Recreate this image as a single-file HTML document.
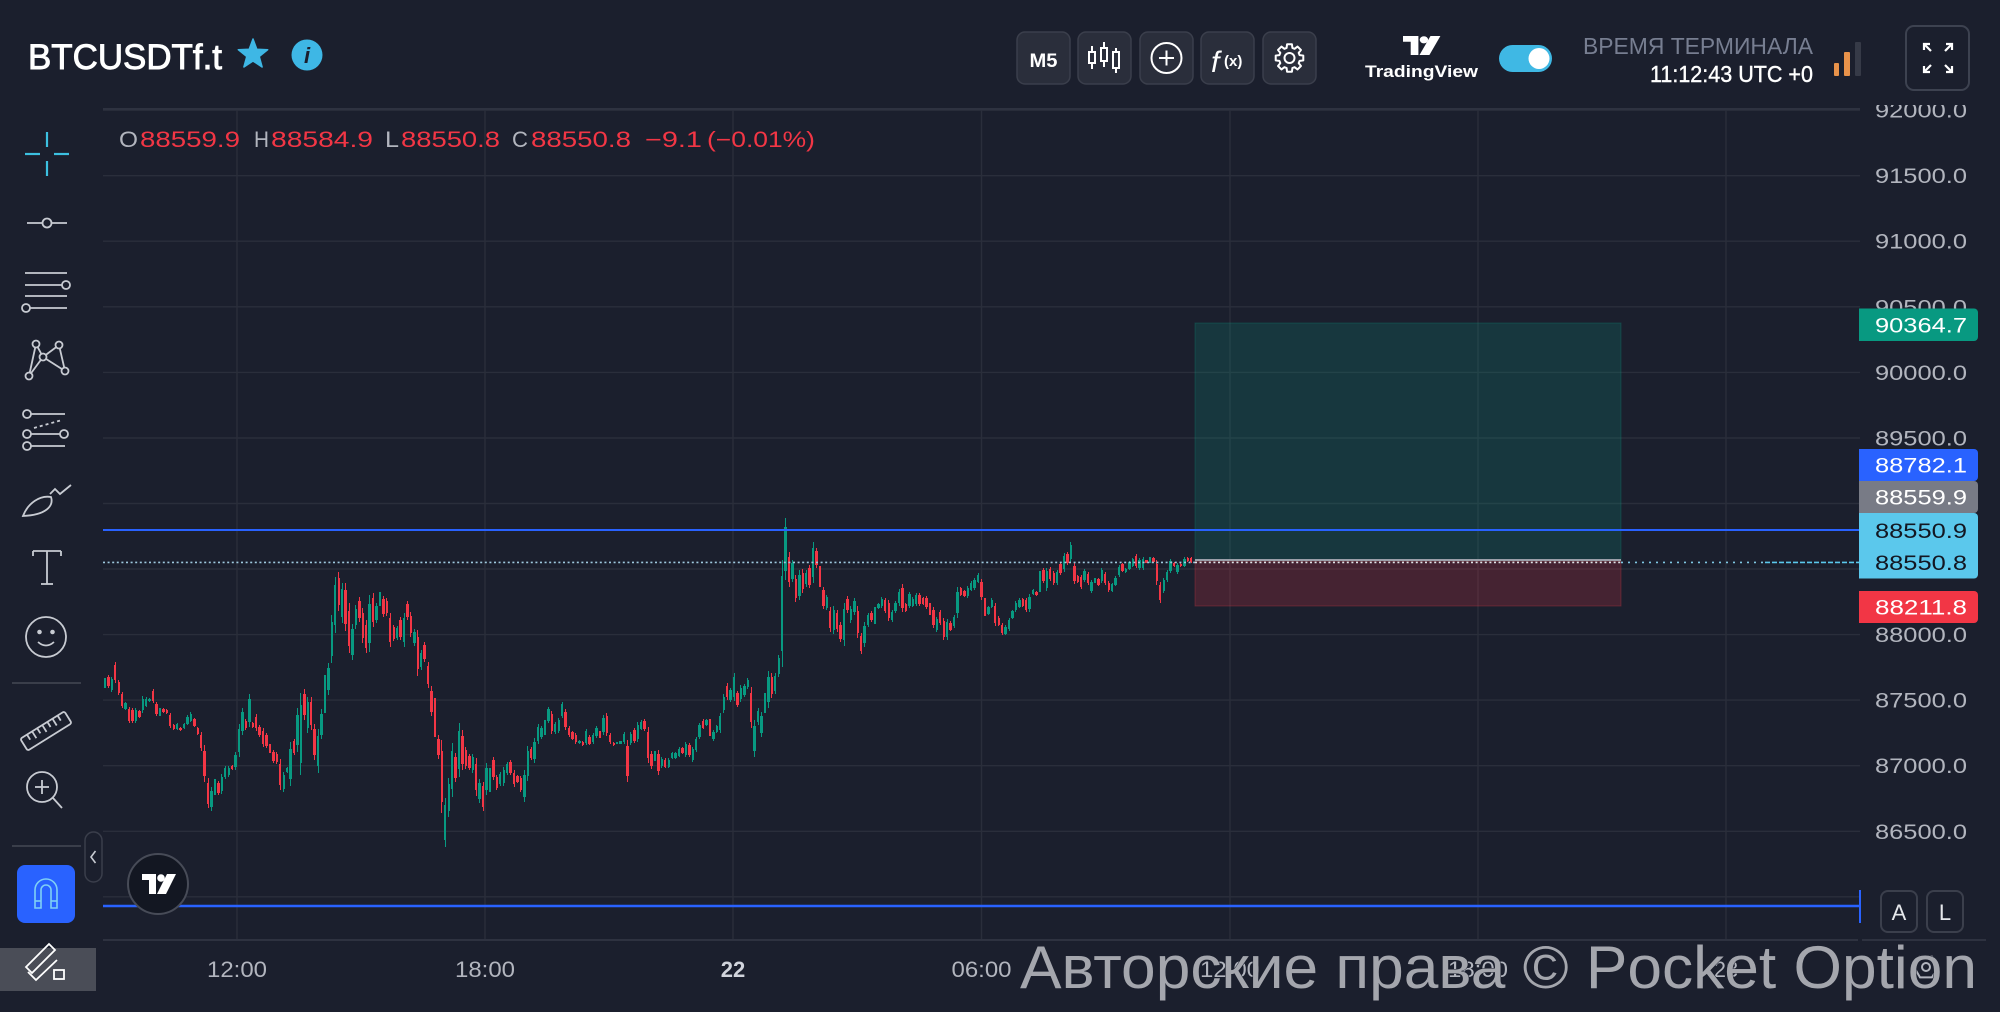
<!DOCTYPE html>
<html><head><meta charset="utf-8">
<style>
html,body{margin:0;padding:0;background:#1b1f2d;width:2000px;height:1012px;overflow:hidden;position:relative}
svg{position:absolute;left:0;top:0;display:block}
text{font-family:"Liberation Sans","DejaVu Sans",sans-serif}
#s1{z-index:0}#s2{z-index:2}
#cd{position:absolute;left:103.2755px;top:0;height:1012px;display:flex;z-index:1}
#cd b{position:relative;flex:0 0 3.449px;width:3.449px;height:1012px;display:block}
#cd b:before,#cd b:after{content:"";position:absolute;background:var(--c)}
#cd b:before{left:1.2px;width:1.1px;top:var(--t);height:calc(var(--b) - var(--t))}
#cd b:after{left:0.52px;width:2.4px;top:calc(var(--t) + (var(--b) - var(--t))*0.15);height:max(1.6px,calc((var(--b) - var(--t))*0.7))}
.g{--c:#089981}.r{--c:#f23645}
</style></head><body>
<svg id="s1" width="2000" height="1012" viewBox="0 0 2000 1012" xmlns="http://www.w3.org/2000/svg">
<rect width="2000" height="1012" fill="#1b1f2d"/>
<g stroke="#2a2e3b" stroke-width="1.4">
<line x1="103" y1="110.2" x2="1860" y2="110.2"/>
<line x1="103" y1="175.7" x2="1860" y2="175.7"/>
<line x1="103" y1="241.2" x2="1860" y2="241.2"/>
<line x1="103" y1="306.8" x2="1860" y2="306.8"/>
<line x1="103" y1="372.4" x2="1860" y2="372.4"/>
<line x1="103" y1="438" x2="1860" y2="438"/>
<line x1="103" y1="503.5" x2="1860" y2="503.5"/>
<line x1="103" y1="569" x2="1860" y2="569"/>
<line x1="103" y1="634.6" x2="1860" y2="634.6"/>
<line x1="103" y1="700.1" x2="1860" y2="700.1"/>
<line x1="103" y1="765.7" x2="1860" y2="765.7"/>
<line x1="103" y1="831.3" x2="1860" y2="831.3"/>
<line x1="103" y1="896.8" x2="1860" y2="896.8"/>
<line x1="237" y1="109" x2="237" y2="940"/>
<line x1="485" y1="109" x2="485" y2="940"/>
<line x1="733" y1="109" x2="733" y2="940"/>
<line x1="981.5" y1="109" x2="981.5" y2="940"/>
<line x1="1230" y1="109" x2="1230" y2="940"/>
<line x1="1478" y1="109" x2="1478" y2="940"/>
<line x1="1726" y1="109" x2="1726" y2="940"/>
</g>
<line x1="103" y1="109" x2="1860" y2="109" stroke="#2e3240" stroke-width="2"/>
<line x1="103" y1="940" x2="1858" y2="940" stroke="#2e3240" stroke-width="2"/>
<line x1="1862" y1="940" x2="1986" y2="940" stroke="#2e3240" stroke-width="2"/>
<rect x="1195" y="323" width="426" height="238" fill="rgba(8,153,129,0.2)" stroke="rgba(8,153,129,0.25)" stroke-width="1"/>
<rect x="1195" y="561" width="426" height="45" fill="rgba(242,54,69,0.2)" stroke="rgba(242,54,69,0.25)" stroke-width="1"/>
</svg>
<div id="cd"><b class=g style="--t:678px;--b:688px"></b><b class=r style="--t:675px;--b:688px"></b><b class=g style="--t:677px;--b:692px"></b><b class=r style="--t:662px;--b:683px"></b><b class=r style="--t:680px;--b:695px"></b><b class=r style="--t:692px;--b:708px"></b><b class=g style="--t:702px;--b:710px"></b><b class=r style="--t:707px;--b:723px"></b><b class=r style="--t:708px;--b:723px"></b><b class=g style="--t:708px;--b:723px"></b><b class=r style="--t:710px;--b:718px"></b><b class=g style="--t:696px;--b:713px"></b><b class=g style="--t:697px;--b:707px"></b><b class=g style="--t:698px;--b:702px"></b><b class=r style="--t:689px;--b:703px"></b><b class=r style="--t:702px;--b:716px"></b><b class=g style="--t:708px;--b:716px"></b><b class=r style="--t:708px;--b:713px"></b><b class=r style="--t:709px;--b:714px"></b><b class=r style="--t:713px;--b:728px"></b><b class=r style="--t:724px;--b:730px"></b><b class=g style="--t:723px;--b:730px"></b><b class=r style="--t:727px;--b:731px"></b><b class=g style="--t:723px;--b:729px"></b><b class=g style="--t:715px;--b:725px"></b><b class=g style="--t:712px;--b:722px"></b><b class=r style="--t:718px;--b:727px"></b><b class=r style="--t:727px;--b:735px"></b><b class=r style="--t:732px;--b:751px"></b><b class=r style="--t:745px;--b:782px"></b><b class=r style="--t:778px;--b:808px"></b><b class=g style="--t:787px;--b:811px"></b><b class=g style="--t:779px;--b:795px"></b><b class=r style="--t:781px;--b:795px"></b><b class=g style="--t:774px;--b:794px"></b><b class=g style="--t:766px;--b:779px"></b><b class=g style="--t:766px;--b:777px"></b><b class=r style="--t:765px;--b:770px"></b><b class=g style="--t:752px;--b:770px"></b><b class=g style="--t:724px;--b:757px"></b><b class=g style="--t:708px;--b:735px"></b><b class=r style="--t:719px;--b:730px"></b><b class=g style="--t:694px;--b:727px"></b><b class=r style="--t:722px;--b:728px"></b><b class=r style="--t:714px;--b:731px"></b><b class=r style="--t:725px;--b:737px"></b><b class=r style="--t:728px;--b:747px"></b><b class=r style="--t:733px;--b:748px"></b><b class=r style="--t:744px;--b:753px"></b><b class=r style="--t:750px;--b:763px"></b><b class=r style="--t:752px;--b:764px"></b><b class=r style="--t:759px;--b:790px"></b><b class=g style="--t:772px;--b:792px"></b><b class=g style="--t:767px;--b:773px"></b><b class=g style="--t:742px;--b:786px"></b><b class=r style="--t:739px;--b:755px"></b><b class=g style="--t:708px;--b:752px"></b><b class=g style="--t:693px;--b:775px"></b><b class=r style="--t:689px;--b:720px"></b><b class=g style="--t:697px;--b:733px"></b><b class=r style="--t:697px;--b:730px"></b><b class=r style="--t:724px;--b:760px"></b><b class=g style="--t:729px;--b:773px"></b><b class=g style="--t:709px;--b:739px"></b><b class=g style="--t:675px;--b:713px"></b><b class=g style="--t:663px;--b:695px"></b><b class=g style="--t:615px;--b:663px"></b><b class=g style="--t:577px;--b:633px"></b><b class=r style="--t:572px;--b:611px"></b><b class=g style="--t:583px;--b:623px"></b><b class=r style="--t:583px;--b:631px"></b><b class=r style="--t:603px;--b:653px"></b><b class=g style="--t:624px;--b:660px"></b><b class=g style="--t:605px;--b:629px"></b><b class=r style="--t:597px;--b:622px"></b><b class=r style="--t:608px;--b:643px"></b><b class=r style="--t:620px;--b:653px"></b><b class=g style="--t:595px;--b:652px"></b><b class=r style="--t:593px;--b:627px"></b><b class=g style="--t:603px;--b:623px"></b><b class=g style="--t:592px;--b:606px"></b><b class=r style="--t:596px;--b:617px"></b><b class=r style="--t:598px;--b:616px"></b><b class=r style="--t:613px;--b:647px"></b><b class=r style="--t:625px;--b:641px"></b><b class=g style="--t:626px;--b:640px"></b><b class=r style="--t:617px;--b:640px"></b><b class=g style="--t:613px;--b:647px"></b><b class=r style="--t:601px;--b:620px"></b><b class=r style="--t:612px;--b:637px"></b><b class=g style="--t:629px;--b:646px"></b><b class=r style="--t:630px;--b:676px"></b><b class=g style="--t:650px;--b:670px"></b><b class=r style="--t:642px;--b:662px"></b><b class=r style="--t:662px;--b:688px"></b><b class=r style="--t:686px;--b:716px"></b><b class=r style="--t:698px;--b:737px"></b><b class=r style="--t:735px;--b:759px"></b><b class=r style="--t:740px;--b:813px"></b><b class=g style="--t:798px;--b:847px"></b><b class=g style="--t:778px;--b:817px"></b><b class=g style="--t:743px;--b:797px"></b><b class=r style="--t:753px;--b:782px"></b><b class=g style="--t:723px;--b:777px"></b><b class=r style="--t:730px;--b:770px"></b><b class=r style="--t:747px;--b:769px"></b><b class=r style="--t:754px;--b:770px"></b><b class=g style="--t:754px;--b:773px"></b><b class=r style="--t:758px;--b:796px"></b><b class=g style="--t:779px;--b:803px"></b><b class=r style="--t:782px;--b:811px"></b><b class=g style="--t:763px;--b:795px"></b><b class=g style="--t:768px;--b:792px"></b><b class=r style="--t:757px;--b:780px"></b><b class=r style="--t:775px;--b:790px"></b><b class=g style="--t:772px;--b:786px"></b><b class=g style="--t:767px;--b:786px"></b><b class=g style="--t:762px;--b:775px"></b><b class=r style="--t:760px;--b:775px"></b><b class=r style="--t:770px;--b:787px"></b><b class=r style="--t:775px;--b:783px"></b><b class=r style="--t:776px;--b:792px"></b><b class=g style="--t:770px;--b:802px"></b><b class=g style="--t:746px;--b:781px"></b><b class=r style="--t:747px;--b:760px"></b><b class=g style="--t:738px;--b:763px"></b><b class=g style="--t:724px;--b:744px"></b><b class=g style="--t:726px;--b:739px"></b><b class=g style="--t:720px;--b:735px"></b><b class=g style="--t:707px;--b:723px"></b><b class=r style="--t:711px;--b:734px"></b><b class=g style="--t:722px;--b:734px"></b><b class=g style="--t:718px;--b:733px"></b><b class=g style="--t:702px;--b:718px"></b><b class=r style="--t:709px;--b:730px"></b><b class=r style="--t:726px;--b:737px"></b><b class=r style="--t:731px;--b:740px"></b><b class=r style="--t:733px;--b:744px"></b><b class=g style="--t:740px;--b:744px"></b><b class=r style="--t:741px;--b:746px"></b><b class=g style="--t:729px;--b:745px"></b><b class=r style="--t:735px;--b:745px"></b><b class=g style="--t:733px;--b:744px"></b><b class=g style="--t:726px;--b:738px"></b><b class=r style="--t:731px;--b:738px"></b><b class=g style="--t:715px;--b:735px"></b><b class=r style="--t:713px;--b:736px"></b><b class=r style="--t:733px;--b:744px"></b><b class=r style="--t:742px;--b:746px"></b><b class=g style="--t:742px;--b:744px"></b><b class=g style="--t:741px;--b:744px"></b><b class=g style="--t:732px;--b:744px"></b><b class=r style="--t:740px;--b:782px"></b><b class=g style="--t:732px;--b:745px"></b><b class=r style="--t:728px;--b:743px"></b><b class=g style="--t:722px;--b:742px"></b><b class=g style="--t:720px;--b:730px"></b><b class=r style="--t:719px;--b:731px"></b><b class=r style="--t:727px;--b:763px"></b><b class=r style="--t:751px;--b:769px"></b><b class=g style="--t:751px;--b:761px"></b><b class=r style="--t:750px;--b:775px"></b><b class=g style="--t:757px;--b:768px"></b><b class=r style="--t:758px;--b:768px"></b><b class=g style="--t:758px;--b:768px"></b><b class=g style="--t:752px;--b:759px"></b><b class=g style="--t:752px;--b:759px"></b><b class=g style="--t:747px;--b:757px"></b><b class=r style="--t:747px;--b:754px"></b><b class=g style="--t:742px;--b:757px"></b><b class=r style="--t:743px;--b:757px"></b><b class=g style="--t:747px;--b:762px"></b><b class=g style="--t:737px;--b:752px"></b><b class=g style="--t:723px;--b:739px"></b><b class=r style="--t:719px;--b:729px"></b><b class=g style="--t:719px;--b:726px"></b><b class=r style="--t:719px;--b:736px"></b><b class=g style="--t:730px;--b:741px"></b><b class=g style="--t:725px;--b:733px"></b><b class=g style="--t:713px;--b:733px"></b><b class=g style="--t:694px;--b:713px"></b><b class=r style="--t:683px;--b:700px"></b><b class=g style="--t:688px;--b:702px"></b><b class=g style="--t:673px;--b:701px"></b><b class=r style="--t:691px;--b:707px"></b><b class=g style="--t:685px;--b:702px"></b><b class=g style="--t:684px;--b:697px"></b><b class=g style="--t:678px;--b:689px"></b><b class=r style="--t:687px;--b:728px"></b><b class=g style="--t:720px;--b:757px"></b><b class=g style="--t:708px;--b:725px"></b><b class=g style="--t:712px;--b:737px"></b><b class=g style="--t:693px;--b:713px"></b><b class=g style="--t:671px;--b:708px"></b><b class=r style="--t:673px;--b:698px"></b><b class=g style="--t:673px;--b:694px"></b><b class=g style="--t:655px;--b:677px"></b><b class=g style="--t:560px;--b:667px"></b><b class=g style="--t:518px;--b:580px"></b><b class=r style="--t:552px;--b:587px"></b><b class=g style="--t:560px;--b:582px"></b><b class=r style="--t:575px;--b:602px"></b><b class=g style="--t:570px;--b:600px"></b><b class=r style="--t:569px;--b:593px"></b><b class=g style="--t:570px;--b:587px"></b><b class=r style="--t:565px;--b:588px"></b><b class=g style="--t:542px;--b:583px"></b><b class=r style="--t:548px;--b:568px"></b><b class=r style="--t:566px;--b:587px"></b><b class=r style="--t:587px;--b:609px"></b><b class=g style="--t:595px;--b:610px"></b><b class=r style="--t:607px;--b:632px"></b><b class=g style="--t:606px;--b:634px"></b><b class=r style="--t:610px;--b:632px"></b><b class=r style="--t:622px;--b:642px"></b><b class=g style="--t:603px;--b:646px"></b><b class=r style="--t:596px;--b:613px"></b><b class=g style="--t:606px;--b:623px"></b><b class=g style="--t:598px;--b:615px"></b><b class=r style="--t:606px;--b:638px"></b><b class=r style="--t:633px;--b:654px"></b><b class=g style="--t:622px;--b:647px"></b><b class=g style="--t:613px;--b:627px"></b><b class=r style="--t:611px;--b:622px"></b><b class=g style="--t:607px;--b:624px"></b><b class=g style="--t:603px;--b:609px"></b><b class=g style="--t:597px;--b:608px"></b><b class=r style="--t:598px;--b:613px"></b><b class=r style="--t:600px;--b:621px"></b><b class=g style="--t:610px;--b:622px"></b><b class=g style="--t:601px;--b:613px"></b><b class=g style="--t:589px;--b:606px"></b><b class=r style="--t:584px;--b:612px"></b><b class=r style="--t:603px;--b:612px"></b><b class=g style="--t:592px;--b:608px"></b><b class=g style="--t:597px;--b:607px"></b><b class=g style="--t:593px;--b:606px"></b><b class=r style="--t:593px;--b:606px"></b><b class=r style="--t:597px;--b:605px"></b><b class=r style="--t:596px;--b:609px"></b><b class=r style="--t:603px;--b:615px"></b><b class=r style="--t:607px;--b:628px"></b><b class=g style="--t:617px;--b:632px"></b><b class=r style="--t:610px;--b:625px"></b><b class=r style="--t:618px;--b:640px"></b><b class=g style="--t:619px;--b:640px"></b><b class=r style="--t:621px;--b:631px"></b><b class=g style="--t:615px;--b:628px"></b><b class=g style="--t:587px;--b:618px"></b><b class=r style="--t:587px;--b:596px"></b><b class=r style="--t:590px;--b:597px"></b><b class=g style="--t:586px;--b:598px"></b><b class=g style="--t:581px;--b:591px"></b><b class=g style="--t:578px;--b:590px"></b><b class=g style="--t:573px;--b:583px"></b><b class=r style="--t:579px;--b:600px"></b><b class=r style="--t:598px;--b:616px"></b><b class=g style="--t:606px;--b:615px"></b><b class=g style="--t:598px;--b:608px"></b><b class=r style="--t:603px;--b:626px"></b><b class=r style="--t:616px;--b:626px"></b><b class=r style="--t:623px;--b:635px"></b><b class=g style="--t:625px;--b:635px"></b><b class=g style="--t:618px;--b:631px"></b><b class=g style="--t:610px;--b:619px"></b><b class=g style="--t:601px;--b:612px"></b><b class=g style="--t:598px;--b:608px"></b><b class=r style="--t:598px;--b:607px"></b><b class=r style="--t:598px;--b:612px"></b><b class=g style="--t:594px;--b:612px"></b><b class=g style="--t:589px;--b:595px"></b><b class=r style="--t:591px;--b:596px"></b><b class=g style="--t:571px;--b:592px"></b><b class=r style="--t:568px;--b:583px"></b><b class=g style="--t:568px;--b:591px"></b><b class=r style="--t:567px;--b:581px"></b><b class=r style="--t:571px;--b:585px"></b><b class=g style="--t:570px;--b:585px"></b><b class=r style="--t:562px;--b:575px"></b><b class=g style="--t:553px;--b:572px"></b><b class=r style="--t:552px;--b:565px"></b><b class=g style="--t:542px;--b:562px"></b><b class=r style="--t:563px;--b:584px"></b><b class=r style="--t:575px;--b:583px"></b><b class=r style="--t:575px;--b:589px"></b><b class=g style="--t:569px;--b:582px"></b><b class=r style="--t:572px;--b:585px"></b><b class=g style="--t:580px;--b:593px"></b><b class=g style="--t:578px;--b:583px"></b><b class=r style="--t:578px;--b:586px"></b><b class=g style="--t:568px;--b:583px"></b><b class=r style="--t:572px;--b:585px"></b><b class=r style="--t:581px;--b:592px"></b><b class=g style="--t:583px;--b:592px"></b><b class=g style="--t:576px;--b:586px"></b><b class=g style="--t:565px;--b:577px"></b><b class=r style="--t:563px;--b:572px"></b><b class=g style="--t:568px;--b:573px"></b><b class=g style="--t:561px;--b:570px"></b><b class=g style="--t:558px;--b:567px"></b><b class=r style="--t:554px;--b:568px"></b><b class=g style="--t:558px;--b:570px"></b><b class=g style="--t:557px;--b:570px"></b><b class=r style="--t:560px;--b:563px"></b><b class=g style="--t:557px;--b:563px"></b><b class=r style="--t:557px;--b:563px"></b><b class=r style="--t:560px;--b:585px"></b><b class=r style="--t:582px;--b:603px"></b><b class=g style="--t:578px;--b:593px"></b><b class=g style="--t:570px;--b:582px"></b><b class=g style="--t:559px;--b:573px"></b><b class=r style="--t:562px;--b:567px"></b><b class=g style="--t:563px;--b:574px"></b><b class=r style="--t:563px;--b:567px"></b><b class=g style="--t:557px;--b:567px"></b><b class=r style="--t:557px;--b:562px"></b><b class=r style="--t:557px;--b:563px"></b></div>
<svg id="s2" width="2000" height="1012" viewBox="0 0 2000 1012" xmlns="http://www.w3.org/2000/svg">
<!-- chart lines -->
<line x1="103" y1="530" x2="1860" y2="530" stroke="#2962ff" stroke-width="2"/>
<line x1="1195" y1="560" x2="1621" y2="560" stroke="#9a9ea8" stroke-width="2"/>
<line x1="103" y1="562.4" x2="1195" y2="562.4" stroke="#9ec9de" stroke-width="1.6" stroke-dasharray="2 2.6"/>
<line x1="1195" y1="562.4" x2="1621" y2="562.4" stroke="#dfe3e8" stroke-width="1.6" stroke-dasharray="2 2.6"/>
<line x1="1621" y1="562.4" x2="1765" y2="562.4" stroke="#7fc7e3" stroke-width="1.6" stroke-dasharray="2 5"/>
<line x1="1765" y1="562.4" x2="1860" y2="562.4" stroke="#5bc8ec" stroke-width="1.6" stroke-dasharray="5 2"/>
<line x1="103" y1="906" x2="1860" y2="906" stroke="#2962ff" stroke-width="2.5"/>
<line x1="1860" y1="890" x2="1860" y2="923" stroke="#2962ff" stroke-width="2"/>

<!-- price axis labels -->
<g font-size="21" fill="#b2b5be" text-anchor="end">
<text x="1967" y="117.7" textLength="92" lengthAdjust="spacingAndGlyphs">92000.0</text>
<text x="1967" y="183.2" textLength="92" lengthAdjust="spacingAndGlyphs">91500.0</text>
<text x="1967" y="248.7" textLength="92" lengthAdjust="spacingAndGlyphs">91000.0</text>
<text x="1967" y="314.3" textLength="92" lengthAdjust="spacingAndGlyphs">90500.0</text>
<text x="1967" y="379.9" textLength="92" lengthAdjust="spacingAndGlyphs">90000.0</text>
<text x="1967" y="445.5" textLength="92" lengthAdjust="spacingAndGlyphs">89500.0</text>
<text x="1967" y="642.1" textLength="92" lengthAdjust="spacingAndGlyphs">88000.0</text>
<text x="1967" y="707.6" textLength="92" lengthAdjust="spacingAndGlyphs">87500.0</text>
<text x="1967" y="773.2" textLength="92" lengthAdjust="spacingAndGlyphs">87000.0</text>
<text x="1967" y="838.8" textLength="92" lengthAdjust="spacingAndGlyphs">86500.0</text>
</g>
<rect x="1860" y="0" width="140" height="105" fill="#1b1f2d"/>
<rect x="0" y="0" width="1860" height="108" fill="#1b1f2d"/>

<!-- price tags -->
<g>
<rect x="1859" y="308.5" width="119" height="32.5" rx="4" fill="#089981"/><rect x="1859" y="308.5" width="8" height="32.5" fill="#089981"/>
<rect x="1859" y="449" width="119" height="32" rx="4" fill="#2962ff"/><rect x="1859" y="449" width="8" height="32" fill="#2962ff"/>
<rect x="1859" y="481" width="119" height="32" rx="4" fill="#787b86"/><rect x="1859" y="481" width="8" height="32" fill="#787b86"/>
<rect x="1859" y="513" width="119" height="65.5" rx="4" fill="#5bc8ec"/><rect x="1859" y="513" width="8" height="65.5" fill="#5bc8ec"/>
<rect x="1859" y="591" width="119" height="32" rx="4" fill="#f23645"/><rect x="1859" y="591" width="8" height="32" fill="#f23645"/>
</g>
<g font-size="21" text-anchor="end">
<text x="1967" y="332.5" fill="#ffffff" textLength="92" lengthAdjust="spacingAndGlyphs">90364.7</text>
<text x="1967" y="472.5" fill="#ffffff" textLength="92" lengthAdjust="spacingAndGlyphs">88782.1</text>
<text x="1967" y="504.5" fill="#ffffff" textLength="92" lengthAdjust="spacingAndGlyphs">88559.9</text>
<text x="1967" y="538" fill="#131722" textLength="92" lengthAdjust="spacingAndGlyphs">88550.9</text>
<text x="1967" y="570" fill="#131722" textLength="92" lengthAdjust="spacingAndGlyphs">88550.8</text>
<text x="1967" y="614.5" fill="#ffffff" textLength="92" lengthAdjust="spacingAndGlyphs">88211.8</text>
</g>

<!-- A / L buttons -->
<rect x="1881" y="891" width="36" height="41" rx="7" fill="#1b1f2d" stroke="#3b3f4c" stroke-width="2"/>
<rect x="1927" y="891" width="36" height="41" rx="7" fill="#1b1f2d" stroke="#3b3f4c" stroke-width="2"/>
<text x="1899" y="920" font-size="22" fill="#e6e8ec" text-anchor="middle">A</text>
<text x="1945" y="920" font-size="22" fill="#e6e8ec" text-anchor="middle">L</text>

<!-- time axis -->
<g font-size="22" fill="#b2b5be" text-anchor="middle">
<text x="237" y="977" textLength="60" lengthAdjust="spacingAndGlyphs">12:00</text>
<text x="485" y="977" textLength="60" lengthAdjust="spacingAndGlyphs">18:00</text>
<text x="733" y="977" font-weight="bold" fill="#d1d4dc">22</text>
<text x="981.5" y="977" textLength="60" lengthAdjust="spacingAndGlyphs">06:00</text>
<text x="1230" y="977" textLength="60" lengthAdjust="spacingAndGlyphs">12:00</text>
<text x="1478" y="977" textLength="60" lengthAdjust="spacingAndGlyphs">18:00</text>
<text x="1726" y="977">23</text>
</g>
<polygon points="1938,967 1932,977.4 1920,977.4 1914,967 1920,956.6 1932,956.6" fill="none" stroke="#b2b5be" stroke-width="2"/>
<circle cx="1926" cy="967" r="4" fill="none" stroke="#b2b5be" stroke-width="2"/>

<!-- watermark -->
<text x="1020" y="988" font-size="60" fill="#a4a6ad" stroke="#1b1f2d" stroke-width="1" paint-order="stroke" textLength="957" lengthAdjust="spacingAndGlyphs">Авторские права © Pocket Option</text>

<!-- floating TV logo -->
<circle cx="158" cy="884" r="30" fill="#131722" stroke="#474b57" stroke-width="2"/>
<g transform="translate(142,874)" fill="#ffffff">
<path d="M0,0 H14 V20 H7 V6 H0 Z"/><circle cx="19" cy="4" r="3.8"/><path d="M25,0 H34 L24,20 H15 Z"/>
</g>

<!-- header -->
<text x="28" y="69" font-size="35" fill="#ffffff" stroke="#ffffff" stroke-width="0.9" textLength="194" lengthAdjust="spacingAndGlyphs">BTCUSDTf.t</text>
<polygon points="253,39 256.8,49.2 267.7,49.7 259.2,56.5 262.1,67 253,61 243.9,67 246.8,56.5 238.3,49.7 249.2,49.2" fill="#3eb7e5" stroke="#3eb7e5" stroke-width="1.5" stroke-linejoin="round"/>
<circle cx="307" cy="55" r="15.5" fill="#3eb7e5"/>
<text x="307" y="63" font-size="22" font-family="Liberation Serif, serif" font-style="italic" font-weight="bold" fill="#1b1f2d" text-anchor="middle">i</text>

<!-- OHLC -->
<g font-size="22">
<text x="119" y="147" fill="#b2b5be" textLength="19" lengthAdjust="spacingAndGlyphs">O</text>
<text x="140" y="147" fill="#f23645" textLength="100" lengthAdjust="spacingAndGlyphs">88559.9</text>
<text x="254" y="147" fill="#b2b5be" textLength="15" lengthAdjust="spacingAndGlyphs">H</text>
<text x="271" y="147" fill="#f23645" textLength="102" lengthAdjust="spacingAndGlyphs">88584.9</text>
<text x="385" y="147" fill="#b2b5be" textLength="14" lengthAdjust="spacingAndGlyphs">L</text>
<text x="401" y="147" fill="#f23645" textLength="99" lengthAdjust="spacingAndGlyphs">88550.8</text>
<text x="512" y="147" fill="#b2b5be" textLength="16" lengthAdjust="spacingAndGlyphs">C</text>
<text x="531" y="147" fill="#f23645" textLength="100" lengthAdjust="spacingAndGlyphs">88550.8</text>
<text x="645" y="147" fill="#f23645" textLength="57" lengthAdjust="spacingAndGlyphs">−9.1</text>
<text x="707" y="147" fill="#f23645" textLength="108" lengthAdjust="spacingAndGlyphs">(−0.01%)</text>
</g>

<!-- top toolbar buttons -->
<g fill="#2a2e3b" stroke="#3b3f4c" stroke-width="1.5">
<rect x="1017" y="32" width="53" height="52" rx="8"/>
<rect x="1078" y="32" width="53" height="52" rx="8"/>
<rect x="1140" y="32" width="53" height="52" rx="8"/>
<rect x="1201" y="32" width="53" height="52" rx="8"/>
<rect x="1263" y="32" width="53" height="52" rx="8"/>
</g>
<text x="1043.5" y="67" font-size="19" font-weight="bold" fill="#ffffff" text-anchor="middle" textLength="28" lengthAdjust="spacingAndGlyphs">M5</text>
<g stroke="#ffffff" stroke-width="2" fill="none">
<line x1="1092" y1="46" x2="1092" y2="69"/><rect x="1089" y="52" width="6" height="11" fill="#2a2e3b"/>
<line x1="1104" y1="42" x2="1104" y2="67"/><rect x="1101" y="48" width="6" height="13" fill="#2a2e3b"/>
<line x1="1116" y1="48" x2="1116" y2="73"/><rect x="1113" y="52" width="6" height="16" fill="#2a2e3b"/>
<circle cx="1166.5" cy="58" r="15"/>
<line x1="1159" y1="58" x2="1174" y2="58"/><line x1="1166.5" y1="50.5" x2="1166.5" y2="65.5"/>
<g transform="translate(1289.5,58)" stroke-linejoin="round">
<polygon points="10.09,-2.89 13.79,-2.43 13.79,2.43 10.09,2.89 9.18,5.09 11.47,8.03 8.03,11.47 5.09,9.18 2.89,10.09 2.43,13.79 -2.43,13.79 -2.89,10.09 -5.09,9.18 -8.03,11.47 -11.47,8.03 -9.18,5.09 -10.09,2.89 -13.79,2.43 -13.79,-2.43 -10.09,-2.89 -9.18,-5.09 -11.47,-8.03 -8.03,-11.47 -5.09,-9.18 -2.89,-10.09 -2.43,-13.79 2.43,-13.79 2.89,-10.09 5.09,-9.18 8.03,-11.47 11.47,-8.03 9.18,-5.09"/>
<circle cx="0" cy="0" r="5"/>
</g>
</g>
<text x="1211" y="72" font-size="30" font-family="Liberation Serif, serif" font-style="italic" fill="#ffffff">f</text>
<text x="1224" y="66" font-size="15" font-weight="bold" fill="#ffffff">(x)</text>

<!-- TradingView logo -->
<g transform="translate(1403,36) scale(1.1,0.95)" fill="#ffffff">
<path d="M0,0 H14 V20 H7 V6 H0 Z"/><circle cx="19" cy="4" r="3.8"/><path d="M25,0 H34 L24,20 H15 Z"/>
</g>
<text x="1365" y="77" font-size="17" font-weight="bold" fill="#ffffff" textLength="113" lengthAdjust="spacingAndGlyphs">TradingView</text>
<rect x="1499" y="45" width="53" height="27" rx="13.5" fill="#3fb8e4"/>
<circle cx="1539" cy="58.5" r="10.5" fill="#ffffff"/>
<text x="1813" y="54" font-size="23" fill="#777e91" text-anchor="end" textLength="230" lengthAdjust="spacingAndGlyphs">ВРЕМЯ ТЕРМИНАЛА</text>
<text x="1813" y="82" font-size="23" fill="#ffffff" stroke="#ffffff" stroke-width="0.4" text-anchor="end" textLength="163" lengthAdjust="spacingAndGlyphs">11:12:43 UTC +0</text>
<rect x="1834" y="63" width="5" height="13" rx="1" fill="#e8924a"/>
<rect x="1844" y="52" width="6" height="24" rx="1" fill="#e8924a"/>
<rect x="1855" y="42" width="6" height="34" rx="1" fill="#363a47"/>
<rect x="1906" y="26" width="63" height="64" rx="8" fill="none" stroke="#3d4250" stroke-width="2"/>
<g stroke="#ffffff" stroke-width="2.2" fill="none">
<line x1="1931" y1="51" x2="1924" y2="44"/><polyline points="1924,50 1924,44 1930,44"/>
<line x1="1945" y1="51" x2="1952" y2="44"/><polyline points="1946,44 1952,44 1952,50"/>
<line x1="1931" y1="65" x2="1924" y2="72"/><polyline points="1924,66 1924,72 1930,72"/>
<line x1="1945" y1="65" x2="1952" y2="72"/><polyline points="1952,66 1952,72 1946,72"/>
</g>

<!-- left toolbar -->
<g stroke="#3cc0e0" stroke-width="2.2">
<line x1="25" y1="154" x2="40" y2="154"/><line x1="54" y1="154" x2="69" y2="154"/>
<line x1="47" y1="132" x2="47" y2="147"/><line x1="47" y1="161" x2="47" y2="176"/>
</g>
<g stroke="#c8cbd2" stroke-width="1.8" fill="none">
<line x1="27" y1="223" x2="67" y2="223"/><circle cx="47" cy="223" r="4.5" fill="#1b1f2d"/>
<line x1="25" y1="273" x2="67" y2="273"/>
<line x1="25" y1="285" x2="62" y2="285"/><circle cx="66" cy="285" r="4"/>
<line x1="25" y1="296" x2="67" y2="296"/>
<line x1="30" y1="308" x2="67" y2="308"/><circle cx="26" cy="308" r="4"/>
<polyline points="29,376 36,344 43,357 59,345 65,371"/>
<line x1="29" y1="376" x2="43" y2="357"/><line x1="43" y1="357" x2="65" y2="371"/>
<circle cx="29" cy="376" r="3.5" fill="#1b1f2d"/><circle cx="36" cy="344" r="3.5" fill="#1b1f2d"/>
<circle cx="43" cy="357" r="3.5" fill="#1b1f2d"/><circle cx="59" cy="345" r="3.5" fill="#1b1f2d"/>
<circle cx="65" cy="371" r="3.5" fill="#1b1f2d"/>
<circle cx="27" cy="414" r="4"/><line x1="31" y1="414" x2="65" y2="414"/>
<circle cx="27" cy="434" r="4"/><circle cx="64" cy="434" r="4"/><line x1="31" y1="434" x2="60" y2="434"/>
<line x1="34" y1="428" x2="62" y2="420" stroke-dasharray="3 3"/>
<circle cx="27" cy="446" r="4"/><line x1="31" y1="446" x2="65" y2="446"/>
<path d="M23,516 C28,503 40,495 51,497 C54,506 46,515 23,516 Z"/>
<polyline points="50,494 55,489 60,494 71,485"/>
<line x1="33" y1="551" x2="61" y2="551"/><line x1="47" y1="551" x2="47" y2="584"/>
<line x1="33" y1="551" x2="33" y2="556"/><line x1="61" y1="551" x2="61" y2="556"/><line x1="41" y1="584" x2="53" y2="584"/>
<circle cx="46" cy="637" r="20"/>
<circle cx="39.5" cy="632" r="1.4" fill="#c8cbd2"/><circle cx="52.5" cy="632" r="1.4" fill="#c8cbd2"/>
<path d="M38,642 Q46,649 54,642"/>
<g transform="rotate(-32 46 731)"><rect x="20" y="724" width="52" height="14" rx="2"/>
<line x1="28" y1="724" x2="28" y2="730"/><line x1="34" y1="724" x2="34" y2="732"/><line x1="40" y1="724" x2="40" y2="730"/><line x1="46" y1="724" x2="46" y2="732"/><line x1="52" y1="724" x2="52" y2="730"/><line x1="58" y1="724" x2="58" y2="732"/><line x1="64" y1="724" x2="64" y2="730"/></g>
<circle cx="42" cy="787" r="15"/><line x1="53" y1="798" x2="62" y2="808"/>
<line x1="35" y1="787" x2="49" y2="787"/><line x1="42" y1="780" x2="42" y2="794"/>
</g>
<line x1="12" y1="683" x2="81" y2="683" stroke="#3a3e4a" stroke-width="2"/>
<line x1="12" y1="846" x2="81" y2="846" stroke="#3a3e4a" stroke-width="2"/>
<rect x="85" y="832" width="17" height="50" rx="8.5" fill="#1b1f2d" stroke="#3a3e4b" stroke-width="1.5"/>
<polyline points="95.5,851 91,857 95.5,863" fill="none" stroke="#c8cbd2" stroke-width="1.6"/>
<rect x="17" y="865" width="58" height="58" rx="8" fill="#2962ff"/>
<path d="M35,908 V890 A11,11 0 0 1 57,890 V908 H51 V890 A5,5 0 0 0 41,890 V908 Z" fill="none" stroke="#7fd0f5" stroke-width="1.6"/>
<line x1="35" y1="901" x2="41" y2="901" stroke="#7fd0f5" stroke-width="1.6"/><line x1="51" y1="901" x2="57" y2="901" stroke="#7fd0f5" stroke-width="1.6"/>
<rect x="0" y="948" width="96" height="43" fill="#4a4d57"/>
<g stroke="#ffffff" stroke-width="1.8" fill="none">
<path d="M26,967 L49,944 L55,950 L32,973 Z"/>
<polyline points="28,972 36,980 57,960"/>
<rect x="54" y="970" width="10" height="9" fill="#4a4d57"/>
</g>
</svg>
</body></html>
